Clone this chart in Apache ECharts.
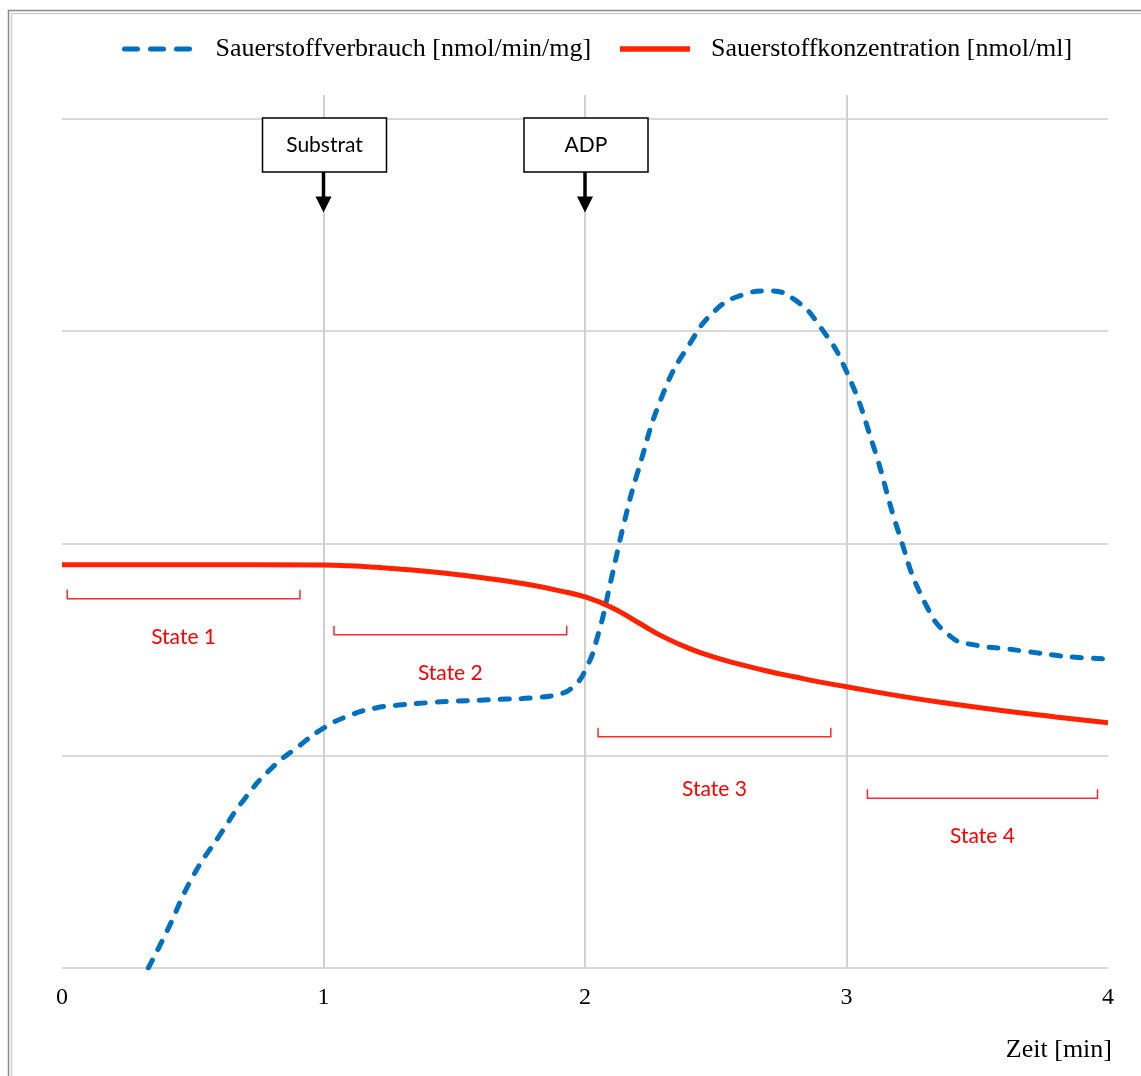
<!DOCTYPE html>
<html>
<head>
<meta charset="utf-8">
<title>Sauerstoffverbrauch</title>
<script src="https://cdn.jsdelivr.net/npm/echarts@6/dist/echarts.min.js"></script>
<style>
  html, body { margin: 0; padding: 0; background: #fff; }
  #main { width: 1141px; height: 1076px; }
</style>
</head>
<body>
<div id="main"></div>
<script>
// Sauerstoffverbrauch (blau, gestrichelt)
var zeitVerbrauch = [0.33, 0.4, 0.5, 0.6, 0.7, 0.8, 0.9, 1.0, 1.1, 1.2, 1.3, 1.4, 1.5, 1.6, 1.7, 1.8, 1.9, 1.95, 2.0, 2.05, 2.1, 2.15, 2.2, 2.3, 2.4, 2.5, 2.6, 2.7, 2.8, 2.9, 3.0, 3.1, 3.2, 3.3, 3.4, 3.5, 3.6, 3.7, 3.8, 3.9, 4.0];
var verbrauch = [0.00, 0.17, 0.43, 0.62, 0.80, 0.94, 1.04, 1.13, 1.19, 1.225, 1.24, 1.25, 1.257, 1.262, 1.267, 1.273, 1.29, 1.32, 1.40, 1.57, 1.83, 2.10, 2.33, 2.71, 2.94, 3.10, 3.17, 3.19, 3.15, 3.02, 2.81, 2.47, 2.05, 1.72, 1.56, 1.52, 1.505, 1.49, 1.473, 1.462, 1.456];

// Sauerstoffkonzentration (rot)
var zeitKonz = [0, 0.5, 1.0, 1.1, 1.2, 1.3, 1.4, 1.5, 1.6, 1.7, 1.8, 1.9, 2.0, 2.1, 2.2, 2.3, 2.4, 2.5, 2.6, 2.7, 2.8, 2.9, 3.0, 3.2, 3.4, 3.6, 3.8, 4.0];
var konz = [1.90, 1.90, 1.899, 1.895, 1.888, 1.879, 1.868, 1.855, 1.84, 1.823, 1.803, 1.778, 1.748, 1.70, 1.63, 1.56, 1.505, 1.462, 1.428, 1.398, 1.372, 1.347, 1.325, 1.282, 1.245, 1.212, 1.183, 1.155];

var serienNamen = ['Sauerstoffverbrauch [nmol/min/mg]', 'Sauerstoffkonzentration [nmol/ml]'];
var xTicks = [0, 1, 2, 3, 4];

// Zugaben (Pfeile)
var zugabeNamen = ['Substrat', 'ADP'];
var zugabeZeit = [1, 2];

// States (Klammern)
var stateNamen = ['State 1', 'State 2', 'State 3', 'State 4'];
var stateVon = [0.02, 1.04, 2.05, 3.08];
var stateBis = [0.91, 1.93, 2.94, 3.96];
var stateNiveau = [1.74, 1.57, 1.09, 0.80];
var stateLabelNiveau = [1.56, 1.39, 0.84, 0.62];

var myChart = echarts.init(document.getElementById('main'));

function toPairs(xs, ys) {
  var out = [];
  for (var i = 0; i < xs.length; i++) {
    out.push([xs[i], ys[i]]);
  }
  return out;
}

myChart.setOption({
  animation: false,
  backgroundColor: '#fff',
  legend: {
    data: [{
        name: serienNamen[0],
        lineStyle: { width: 5, type: [13, 13], cap: 'round' }
      },
      {
        name: serienNamen[1],
        lineStyle: { width: 5.5 }
      }
    ],
    left: 122,
    top: 36,
    padding: 0,
    itemWidth: 70,
    itemHeight: 20,
    itemGap: 26,
    itemStyle: { opacity: 0 },
    textStyle: {
      fontFamily: 'Liberation Serif',
      fontSize: 26,
      color: '#000',
      padding: [0, 0, 0, 16]
    }
  },
  grid: {
    left: 62,
    right: 33,
    top: 95,
    bottom: 108
  },
  xAxis: {
    type: 'value',
    min: 0,
    max: 4,
    interval: 1,
    axisLine: { show: false },
    axisTick: { show: false },
    axisLabel: {
      fontFamily: 'Liberation Serif',
      fontSize: 24,
      color: '#000',
      margin: 18,
      formatter: function (v) {
        return xTicks.indexOf(v) >= 0 ? String(v) : '';
      }
    },
    splitLine: {
      show: true,
      showMinLine: false,
      showMaxLine: false,
      lineStyle: { color: '#d0d0d0', width: 2 }
    }
  },
  yAxis: {
    type: 'value',
    min: 0,
    max: 4.113,
    interval: 1,
    axisLine: { show: false },
    axisTick: { show: false },
    axisLabel: { show: false },
    splitLine: {
      show: true,
      showMinLine: true,
      showMaxLine: false,
      lineStyle: { color: '#d9d9d9', width: 2 }
    }
  },
  series: [{
      name: serienNamen[0],
      type: 'line',
      smooth: 0.5,
      symbol: 'none',
      data: toPairs(zeitVerbrauch, verbrauch),
      lineStyle: {
        color: '#0070c0',
        width: 5,
        type: [9, 12],
        cap: 'round'
      },
      itemStyle: { color: '#0070c0' }
    },
    {
      name: serienNamen[1],
      type: 'line',
      smooth: 0.5,
      symbol: 'none',
      data: toPairs(zeitKonz, konz),
      lineStyle: {
        color: '#ff2200',
        width: 5
      },
      itemStyle: { color: '#ff2200' }
    }
  ]
});

// Anmerkungen über die Achsen positionieren
function px(t, v) {
  return myChart.convertToPixel({ gridIndex: 0 }, [t, v]);
}

var graphics = [];

// Rahmen links/oben
graphics.push({
  type: 'rect', silent: true,
  shape: { x: 8.5, y: 10.5, width: 1200, height: 1200 },
  style: { fill: 'none', stroke: '#8a8a8a', lineWidth: 1.5 }
});
graphics.push({
  type: 'rect', silent: true,
  shape: { x: 11.5, y: 13.5, width: 1200, height: 1200 },
  style: { fill: 'none', stroke: '#d0d0d0', lineWidth: 1.5 }
});

for (var i = 0; i < zugabeNamen.length; i++) {
  var oben = px(zugabeZeit[i], 4);
  var spitze = px(zugabeZeit[i], 3.56);
  var ax = oben[0];
  var boxTop = oben[1] - 1;
  var boxH = 54;
  var boxW = 124;
  graphics.push({
    type: 'rect',
    shape: { x: ax + 1 - boxW / 2, y: boxTop, width: boxW, height: boxH },
    style: { fill: '#fff', stroke: '#000', lineWidth: 1.5 },
    z: 10
  });
  graphics.push({
    type: 'text',
    x: ax + 1, y: boxTop + boxH / 2,
    style: {
      text: zugabeNamen[i],
      font: '21px Lato',
      fill: '#000',
      align: 'center',
      verticalAlign: 'middle'
    },
    z: 11
  });
  graphics.push({
    type: 'line',
    shape: { x1: ax, y1: boxTop + boxH, x2: ax, y2: spitze[1] - 14 },
    style: { stroke: '#000', lineWidth: 3.5 },
    z: 10
  });
  graphics.push({
    type: 'polygon',
    shape: { points: [[ax - 8, spitze[1] - 16], [ax + 8, spitze[1] - 16], [ax, spitze[1]]] },
    style: { fill: '#000' },
    z: 10
  });
}

for (var j = 0; j < stateNamen.length; j++) {
  var a = px(stateVon[j], stateNiveau[j]);
  var b = px(stateBis[j], stateNiveau[j]);
  var lab = px((stateVon[j] + stateBis[j]) / 2, stateLabelNiveau[j]);
  graphics.push({
    type: 'polyline',
    shape: { points: [[a[0], a[1] - 9], [a[0], a[1]], [b[0], b[1]], [b[0], b[1] - 9]] },
    style: { fill: 'none', stroke: '#ff2a2a', lineWidth: 1.5 },
    z: 10
  });
  graphics.push({
    type: 'text',
    x: lab[0], y: lab[1],
    style: {
      text: stateNamen[j],
      font: '21px Lato',
      fill: '#ff0000',
      align: 'center',
      verticalAlign: 'middle'
    },
    z: 10
  });
}

graphics.push({
  type: 'text',
  x: 1112, y: 1050,
  style: {
    text: 'Zeit [min]',
    font: '26px "Liberation Serif"',
    fill: '#000',
    align: 'right',
    verticalAlign: 'middle'
  }
});

myChart.setOption({ graphic: graphics });
</script>
</body>
</html>
